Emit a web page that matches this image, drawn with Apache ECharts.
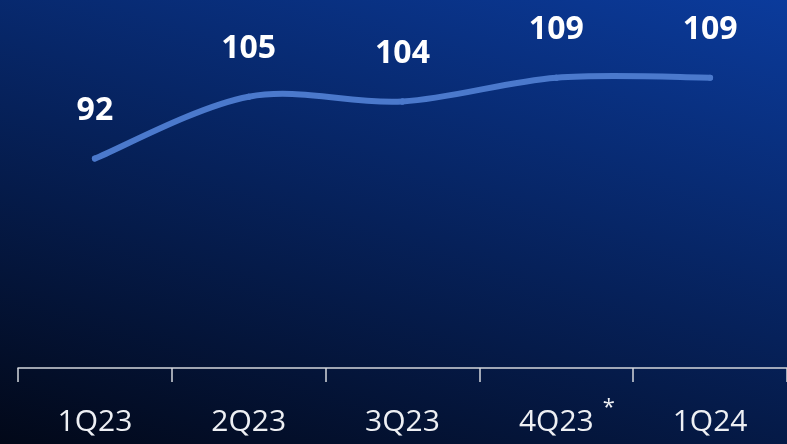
<!DOCTYPE html>
<html>
<head>
<meta charset="utf-8">
<style>
  html, body { margin: 0; padding: 0; background: #05163f; }
  #chart { width: 787px; height: 444px; }
</style>
<script src="https://cdn.jsdelivr.net/npm/echarts@6/dist/echarts.min.js"></script>
</head>
<body>
<div id="chart"></div>
<script>
// Quarterly index values
const quarters = ['1Q23', '2Q23', '3Q23', '4Q23', '1Q24'];
const values = [92, 105, 104, 109, 109];
// Quarters that carry a footnote marker
const starred = ['4Q23'];

const LINE_COLOR = '#4b79cc';
const chart = echarts.init(document.getElementById('chart'), null, { renderer: 'canvas' });

const bg = new echarts.graphic.LinearGradient(787, 0, 596, 627, [
  { offset: 0, color: '#0b3b9c' },
  { offset: 0.5, color: '#06215a' },
  { offset: 1, color: '#020818' }
], true);

// Catmull-Rom segment from point i to point i+1, through the axis scales
function renderSegment(params, api) {
  const i = params.dataIndex;
  const n = values.length;
  if (i >= n - 1) return null;
  const pt = function (k) {
    const j = Math.max(0, Math.min(n - 1, k));
    return api.coord([j, values[j]]);
  };
  const p0 = pt(i - 1), p1 = pt(i), p2 = pt(i + 1), p3 = pt(i + 2);
  return {
    type: 'bezierCurve',
    shape: {
      x1: p1[0], y1: p1[1],
      cpx1: p1[0] + (p2[0] - p0[0]) / 6, cpy1: p1[1] + (p2[1] - p0[1]) / 6,
      cpx2: p2[0] - (p3[0] - p1[0]) / 6, cpy2: p2[1] - (p3[1] - p1[1]) / 6,
      x2: p2[0], y2: p2[1]
    },
    style: { stroke: LINE_COLOR, lineWidth: 6, fill: null, lineCap: 'round' }
  };
}

chart.setOption({
  animation: false,
  backgroundColor: bg,
  grid: { left: 18, right: -3.5, top: 1.5, bottom: 76, containLabel: false },
  xAxis: {
    type: 'category',
    data: quarters,
    boundaryGap: true,
    axisLine: { show: true, lineStyle: { color: '#d4d6dc', width: 1.5 } },
    axisTick: { show: true, length: 14, lineStyle: { color: '#d4d6dc', width: 1.5 } },
    axisLabel: {
      margin: 29,
      interval: 0,
      formatter: function (v) {
        return starred.indexOf(v) >= 0 ? '{sp|*}{a|' + v + '}{s|*}' : '{a|' + v + '}';
      },
      rich: {
        a: { fontFamily: 'Open Sans', fontSize: 30, lineHeight: 50, color: '#eef0f4' },
        s: { fontFamily: 'Open Sans', fontSize: 22, lineHeight: 22, color: '#eef0f4',
             verticalAlign: 'top', padding: [0, 0, 0, 9] },
        sp: { fontFamily: 'Open Sans', fontSize: 22, lineHeight: 22, color: 'rgba(0,0,0,0)',
              verticalAlign: 'top', padding: [0, 9, 0, 0] }
      }
    },
    splitLine: { show: false }
  },
  yAxis: {
    type: 'value',
    min: 48,
    max: 125,
    show: false,
    splitLine: { show: false }
  },
  series: [
    {
      type: 'custom',
      renderItem: renderSegment,
      data: values.map(function (v, i) { return [i, v]; }),
      encode: { x: 0, y: 1 },
      z: 2
    },
    {
      // value labels above each quarter
      type: 'line',
      data: values,
      symbol: 'circle',
      symbolSize: 6,
      itemStyle: { color: LINE_COLOR },
      lineStyle: { opacity: 0, width: 0 },
      label: {
        show: true,
        position: 'top',
        distance: 29,
        fontFamily: 'Open Sans',
        fontWeight: 'bold',
        fontSize: 32,
        color: '#ffffff'
      },
      emphasis: { disabled: true },
      z: 3
    }
  ]
});
</script>
</body>
</html>
